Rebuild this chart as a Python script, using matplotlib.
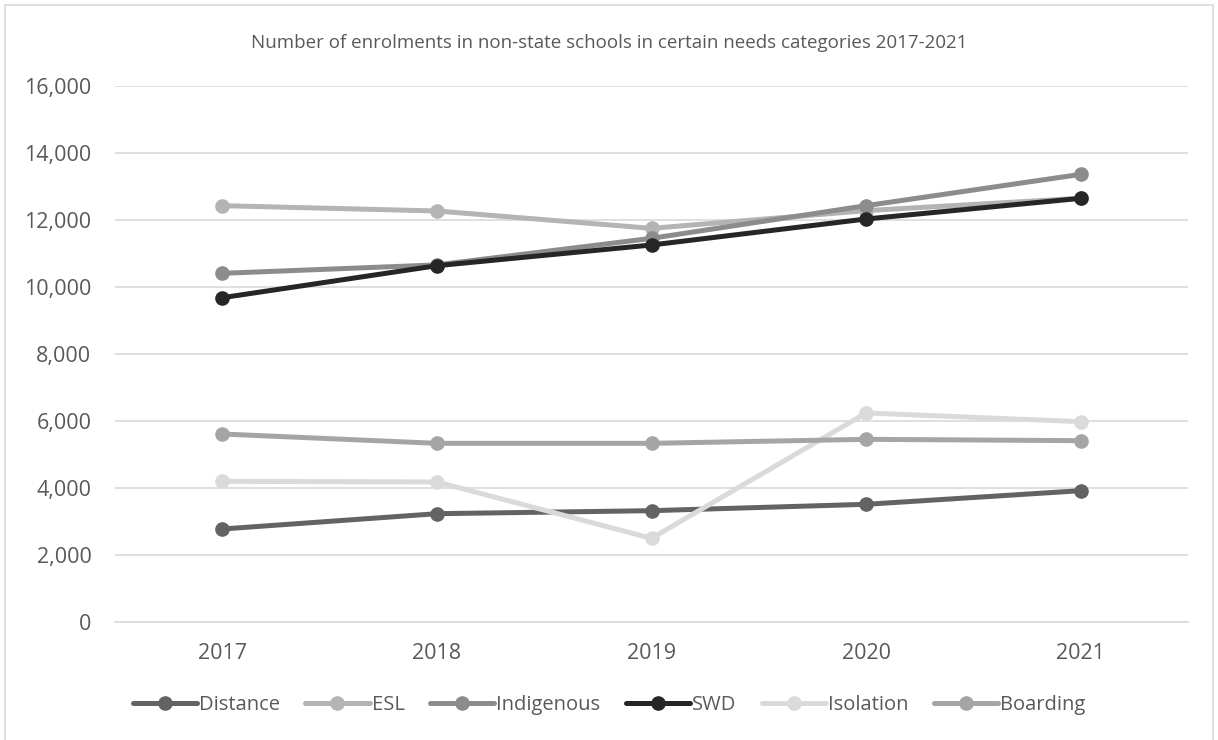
import matplotlib.pyplot as plt
from matplotlib.patches import Rectangle

plt.rcParams["font.family"] = ["Liberation Sans Narrow", "Open Sans", "DejaVu Sans"]

years = ["2017", "2018", "2019", "2020", "2021"]
distance = [2776, 3233, 3323, 3513, 3920]
esl = [12428, 12269, 11751, 12279, 12650]
indigenous = [10408, 10660, 11453, 12428, 13363]
swd = [9681, 10636, 11254, 12030, 12647]
isolation = [4199, 4180, 2498, 6240, 5980]
boarding = [5612, 5333, 5333, 5453, 5413]

series = [
    ("Distance", distance, "#636363"),
    ("ESL", esl, "#b4b4b4"),
    ("Indigenous", indigenous, "#8c8c8c"),
    ("SWD", swd, "#262626"),
    ("Isolation", isolation, "#dadada"),
    ("Boarding", boarding, "#a5a5a5"),
]

fig = plt.figure(figsize=(12.18, 7.4), dpi=100)
ax = fig.add_axes([115 / 1218, 1 - 622 / 740, (1188 - 115) / 1218, (622 - 86) / 740])

x = list(range(len(years)))
for name, vals, col in series:
    ax.plot(x, vals, color=col, lw=3.6, marker="o", markersize=9.5,
            solid_capstyle="round", label=name)

ax.set_xlim(-0.5, 4.5)
ax.set_ylim(0, 16000)
ax.set_yticks(range(0, 16001, 2000))
ax.set_yticklabels([f"{v:,}" for v in range(0, 16001, 2000)])
ax.set_xticks(x)
ax.set_xticklabels(years)
ax.tick_params(length=0, labelsize=15.5, colors="#595959")
ax.tick_params(axis="x", pad=15)
ax.tick_params(axis="y", pad=17)
ax.grid(axis="y", color="#d9d9d9", lw=1.2)
ax.set_axisbelow(True)
for s in ["top", "right", "left"]:
    ax.spines[s].set_visible(False)
ax.spines["bottom"].set_color("#d9d9d9")
ax.spines["bottom"].set_linewidth(1.2)

fig.text(0.5, 1 - 43 / 740, "Number of enrolments in non-state schools in certain needs categories 2017-2021",
         ha="center", va="center", fontsize=13.5, color="#595959")

fig.legend(loc="center", bbox_to_anchor=(0.5, 1 - 705 / 740), ncol=6, frameon=False,
           fontsize=14.5, labelcolor="#595959", handlelength=3.2, handletextpad=0.1,
           columnspacing=1.25)

fig.patches.append(Rectangle((5 / 1218, -0.1), 1208 / 1218, 1.1 - 5 / 740, transform=fig.transFigure,
                             fill=False, edgecolor="#d9d9d9", lw=1.2))

fig.savefig("out.png", dpi=100)
